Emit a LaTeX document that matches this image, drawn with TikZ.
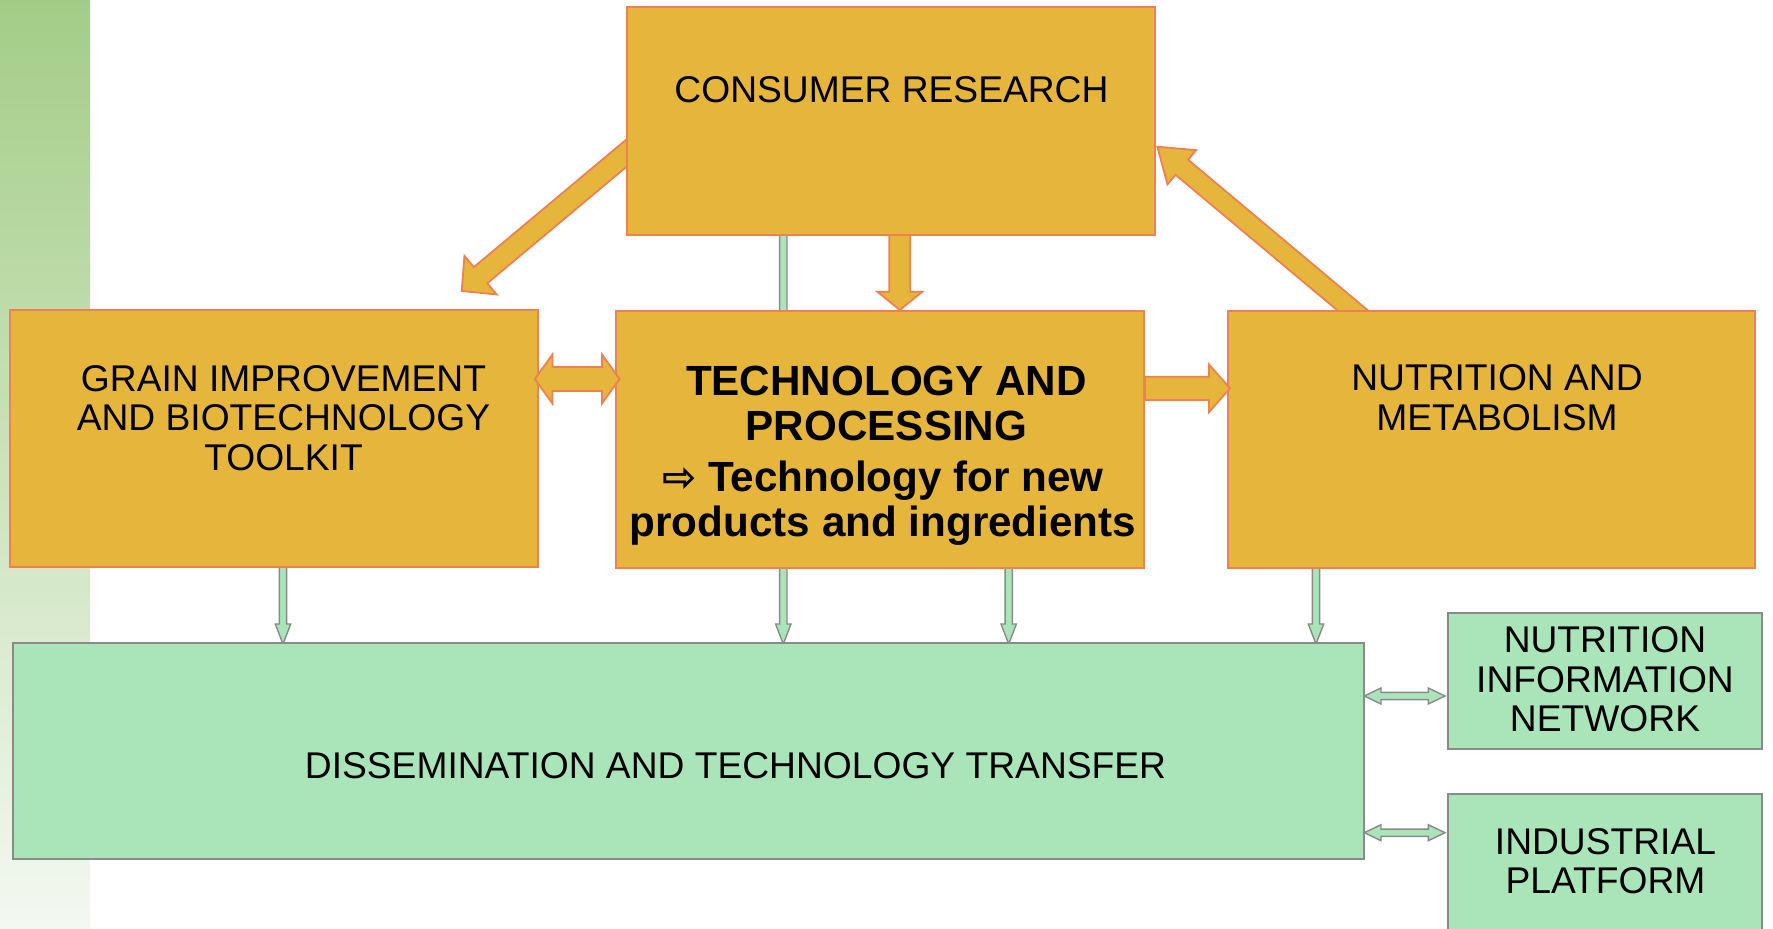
\documentclass[tikz,border=0pt]{standalone}
\usepackage{fontspec}
\setmainfont{Liberation Sans}
\newfontfamily\arrowfont{DejaVu Sans}
\usetikzlibrary{calc,backgrounds}
\definecolor{gold}{HTML}{E5B53C}
\definecolor{goldline}{HTML}{EF8050}
\definecolor{mint}{HTML}{AAE5BA}
\definecolor{greyline}{HTML}{8A8A8A}
\definecolor{stripTop}{HTML}{A3CD87}
\definecolor{stripBot}{HTML}{F4F8F1}
% single block arrow: #1 style, #2 tail, #3 tip, #4 shaft half width, #5 head half width, #6 head length
\newcommand\blockarr[6]{%
  \coordinate (bneck) at ($(#3)!#6!(#2)$);
  \draw[#1] ($(#2)!#4!90:(#3)$) -- ($(bneck)!#4!90:(#3)$) -- ($(bneck)!#5!90:(#3)$) -- (#3)
    -- ($(bneck)!#5!-90:(#3)$) -- ($(bneck)!#4!-90:(#3)$) -- ($(#2)!#4!-90:(#3)$) -- cycle;}
% double block arrow
\newcommand\dblarr[6]{%
  \coordinate (dneckA) at ($(#2)!#6!(#3)$);
  \coordinate (dneckB) at ($(#3)!#6!(#2)$);
  \draw[#1] (#2) -- ($(dneckA)!#5!90:(#3)$) -- ($(dneckA)!#4!90:(#3)$) -- ($(dneckB)!#4!90:(#3)$)
    -- ($(dneckB)!#5!90:(#3)$) -- (#3) -- ($(dneckB)!#5!-90:(#3)$) -- ($(dneckB)!#4!-90:(#3)$)
    -- ($(dneckA)!#4!-90:(#3)$) -- ($(dneckA)!#5!-90:(#3)$) -- cycle;}
\begin{document}
\begin{tikzpicture}[x=1pt,y=-1pt,
  goldbox/.style={rectangle, draw=goldline, fill=gold, line width=2pt, inner sep=0pt, outer sep=0pt},
  mintbox/.style={rectangle, draw=greyline, fill=mint, line width=2pt, inner sep=0pt, outer sep=0pt},
  goldarrow/.style={draw=goldline, fill=gold, line width=1.8pt, line join=miter},
  mintarrow/.style={draw=greyline, fill=mint, line width=1.4pt, line join=miter},
  reg/.style={anchor=base, inner sep=0pt, font=\fontsize{37.2}{39.6}\selectfont},
  bld/.style={anchor=base, inner sep=0pt, font=\fontsize{42.2}{45}\selectfont\bfseries}]
\useasboundingbox (0,0) rectangle (1773,929);
\clip (0,0) rectangle (1773,929);

% boxes
\node[goldbox, minimum width=528pt, minimum height=228.3pt] (cons) at (891.3,120.85) {};
\node[goldbox, minimum width=528.3pt, minimum height=256.7pt] (grain) at (274.15,438.35) {};
\node[goldbox, minimum width=528pt, minimum height=257.3pt] (tech) at (880,439.65) {};
\node[goldbox, minimum width=527.5pt, minimum height=257pt] (nutr) at (1491.25,439.2) {};
\node[mintbox, minimum width=1351.6pt, minimum height=216pt] (diss) at (688.5,751.3) {};
\node[mintbox, minimum width=314.6pt, minimum height=136.6pt] (nin) at (1605,681) {};
\node[mintbox, minimum width=314.6pt, minimum height=140.7pt] (ip) at (1605,864.65) {};

% texts
\node[reg] (tc) at (891.5,102.3) {CONSUMER RESEARCH};
\node[reg] (tg1) at (283.5,391) {GRAIN IMPROVEMENT};
\node[reg] (tg2) at (283.5,430.5) {AND BIOTECHNOLOGY};
\node[reg] (tg3) at (283.5,470) {TOOLKIT};
\node[reg] (tn1) at (1497,390.7) {NUTRITION AND};
\node[reg] (tn2) at (1497,430.2) {METABOLISM};
\node[reg] (td) at (735.5,778.3) {DISSEMINATION AND TECHNOLOGY TRANSFER};
\node[reg] (ti1) at (1605,652.7) {NUTRITION};
\node[reg] (ti2) at (1605,692.3) {INFORMATION};
\node[reg] (ti3) at (1605,731.7) {NETWORK};
\node[reg] (tp1) at (1605.5,854) {INDUSTRIAL};
\node[reg] (tp2) at (1605.5,893.3) {PLATFORM};
\node[bld] (tt1) at (886.5,395) {TECHNOLOGY AND};
\node[bld] (tt2) at (886.5,440) {PROCESSING};
\node[bld] (tt3) at (883,491.7) {{\arrowfont\bfseries\fontsize{41}{41}\selectfont ⇨} Technology for new};
\node[bld] (tt4) at (883,536.7) {products and ingredients};

% connector end points
\coordinate (cgA) at (645.8,136.9);  \coordinate (cgB) at (461.7,291);
\coordinate (ncA) at (1379.6,333);   \coordinate (ncB) at (1157.3,146.7);
\coordinate (ctA) at (899.8,225);    \coordinate (ctB) at (899.8,310);
\coordinate (gtA) at (534.8,379);    \coordinate (gtB) at (619.6,379);
\coordinate (tnA) at (1145,388.3);   \coordinate (tnB) at (1230,388.3);
\coordinate (m1A) at (283,560);      \coordinate (m1B) at (283,644);
\coordinate (m2A) at (783.3,230);    \coordinate (m2B) at (783.3,644);
\coordinate (m3A) at (1008.7,560);   \coordinate (m3B) at (1008.7,644);
\coordinate (m4A) at (1316,560);     \coordinate (m4B) at (1316,644);
\coordinate (d1A) at (1364.3,696);   \coordinate (d1B) at (1445,696);
\coordinate (d2A) at (1364.3,832.7); \coordinate (d2B) at (1445,832.7);

\begin{pgfonlayer}{background}
  \shade[top color=stripTop, bottom color=stripBot] (0,0) rectangle (90,929);
  \blockarr{goldarrow}{cgA}{cgB}{10.5pt}{25.1pt}{24.6pt}
  \blockarr{goldarrow}{ncA}{ncB}{9.8pt}{22.3pt}{32pt}
  \blockarr{goldarrow}{ctA}{ctB}{10.5pt}{22.5pt}{18.3pt}
  \blockarr{mintarrow}{m1A}{m1B}{3.65pt}{7.7pt}{20pt}
  \blockarr{mintarrow}{m2A}{m2B}{3.65pt}{7.7pt}{20pt}
  \blockarr{mintarrow}{m3A}{m3B}{3.65pt}{7.7pt}{20pt}
  \blockarr{mintarrow}{m4A}{m4B}{3.65pt}{7.7pt}{20pt}
\end{pgfonlayer}

\dblarr{goldarrow}{gtA}{gtB}{12pt}{24.5pt}{17.6pt}
\blockarr{goldarrow}{tnA}{tnB}{11.65pt}{23.85pt}{21pt}
\dblarr{mintarrow}{d1A}{d1B}{3.65pt}{8pt}{16.7pt}
\dblarr{mintarrow}{d2A}{d2B}{3.65pt}{8pt}{16.7pt}
\end{tikzpicture}
\end{document}
